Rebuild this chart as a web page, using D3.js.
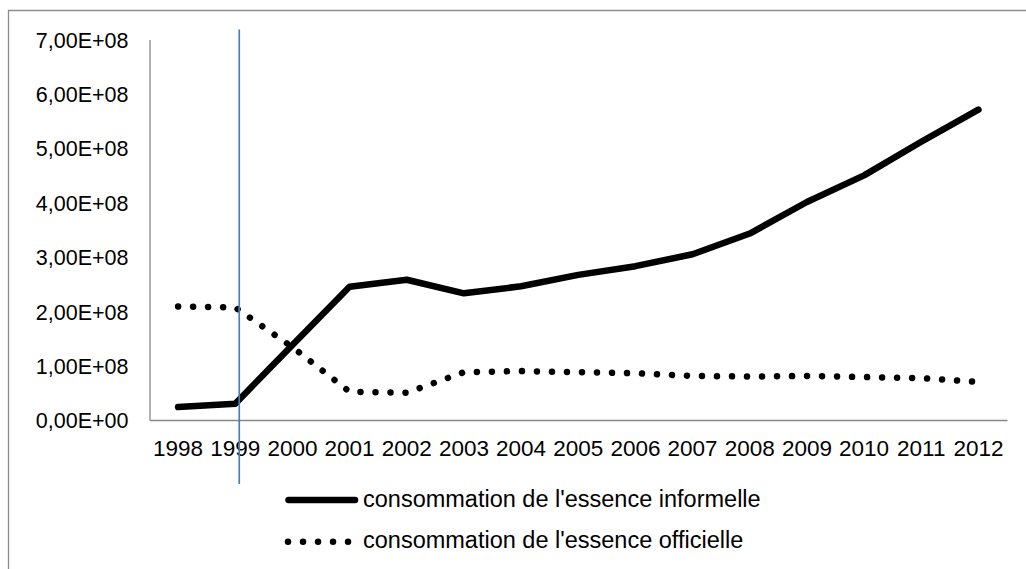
<!DOCTYPE html>
<html>
<head>
<meta charset="utf-8">
<script src="https://cdn.jsdelivr.net/npm/d3@7"></script>
<style>
  html, body { margin: 0; padding: 0; background: #fff; }
  svg { display: block; }
  text { font-family: "Liberation Sans", Arial, sans-serif; fill: #000; }
</style>
</head>
<body>
<svg id="chart" width="1026" height="569"></svg>
<script>
// Years on the horizontal axis
const years = ["1998","1999","2000","2001","2002","2003","2004","2005","2006","2007","2008","2009","2010","2011","2012"];

// Informal petrol consumption
const informelle = [2.4e7, 3.0e7, 1.38e8, 2.45e8, 2.58e8, 2.33e8, 2.46e8, 2.67e8, 2.83e8, 3.05e8, 3.43e8, 4.01e8, 4.50e8, 5.12e8, 5.71e8];

// Official petrol consumption
const officielle = [2.09e8, 2.07e8, 1.34e8, 5.2e7, 5.0e7, 8.8e7, 9.0e7, 8.8e7, 8.6e7, 8.1e7, 8.0e7, 8.1e7, 7.9e7, 7.7e7, 7.0e7];

// Vertical axis ticks and their labels
const yTickValues = [0, 1e8, 2e8, 3e8, 4e8, 5e8, 6e8, 7e8];
const yTickLabels = ["0,00E+00","1,00E+08","2,00E+08","3,00E+08","4,00E+08","5,00E+08","6,00E+08","7,00E+08"];

// Legend entries
const seriesNames = ["consommation de l'essence informelle", "consommation de l'essence officielle"];

// Year marked by the vertical reference line
const markedYear = "1999";

const svg = d3.select("#chart");
const axisGrey = "#868686";
const fontStack = "Liberation Sans, Arial, sans-serif";

// Outer frame (top and left edges)
svg.append("path")
  .attr("d", "M8.5,569 V10.5 H1026")
  .attr("fill", "none")
  .attr("stroke", "#8c8c8c")
  .attr("stroke-width", 1.3);

const x = d3.scaleBand().domain(years).range([149.5, 1007]).padding(0);
const xMid = d => x(d) + x.bandwidth() / 2;
const y = d3.scaleLinear().domain([0, 7e8]).range([420, 39.5]);

// Vertical axis
const yAxis = d3.axisLeft(y)
  .tickValues(yTickValues)
  .tickFormat((d, i) => yTickLabels[i])
  .tickSize(0)
  .tickPadding(21);
const gy = svg.append("g").attr("transform", "translate(149.5,0)").call(yAxis);
gy.select(".domain").attr("stroke", axisGrey).attr("stroke-width", 1.3);
gy.selectAll("text")
  .attr("font-size", "21.5px")
  .attr("font-family", fontStack)
  .attr("fill", "#000")
  .attr("dy", "0.36em");

// Horizontal axis
const xAxis = d3.axisBottom(x).tickSize(0).tickPadding(0);
const gx = svg.append("g").attr("transform", "translate(0,420)").call(xAxis);
gx.select(".domain").attr("stroke", axisGrey).attr("stroke-width", 1.3);
gx.selectAll("text")
  .attr("font-size", "22.5px")
  .attr("font-family", fontStack)
  .attr("fill", "#000")
  .attr("y", 36)
  .attr("dy", 0);

const line = d3.line()
  .x((d, i) => xMid(years[i]))
  .y(d => y(d));

// Official consumption: round dots
svg.append("path")
  .datum(officielle)
  .attr("d", line)
  .attr("fill", "none")
  .attr("stroke", "#000")
  .attr("stroke-width", 6.5)
  .attr("stroke-linecap", "round")
  .attr("stroke-dasharray", "0.01 15");

// Informal consumption: solid line
svg.append("path")
  .datum(informelle)
  .attr("d", line)
  .attr("fill", "none")
  .attr("stroke", "#000")
  .attr("stroke-width", 6.5)
  .attr("stroke-linecap", "round")
  .attr("stroke-linejoin", "round");

// Vertical reference line at the marked year
svg.append("line")
  .attr("x1", xMid(markedYear) + 4)
  .attr("x2", xMid(markedYear) + 4)
  .attr("y1", 29.5)
  .attr("y2", 484)
  .attr("stroke", "#4a7ebb")
  .attr("stroke-width", 1.7);

// Legend
const legend = svg.append("g");
const legendRows = [
  { name: seriesNames[0], dash: null, cy: 500 },
  { name: seriesNames[1], dash: "0.01 15", cy: 541.7 }
];
legendRows.forEach(r => {
  legend.append("line")
    .attr("x1", r.dash ? 288 : 288.5)
    .attr("x2", r.dash ? 350 : 355)
    .attr("y1", r.cy).attr("y2", r.cy)
    .attr("stroke", "#000")
    .attr("stroke-width", 6.5)
    .attr("stroke-linecap", "round")
    .attr("stroke-dasharray", r.dash);
  legend.append("text")
    .attr("x", 363)
    .attr("y", r.cy + 6.7)
    .attr("font-size", "23.5px")
    .attr("font-family", fontStack)
    .text(r.name);
});
</script>
</body>
</html>
